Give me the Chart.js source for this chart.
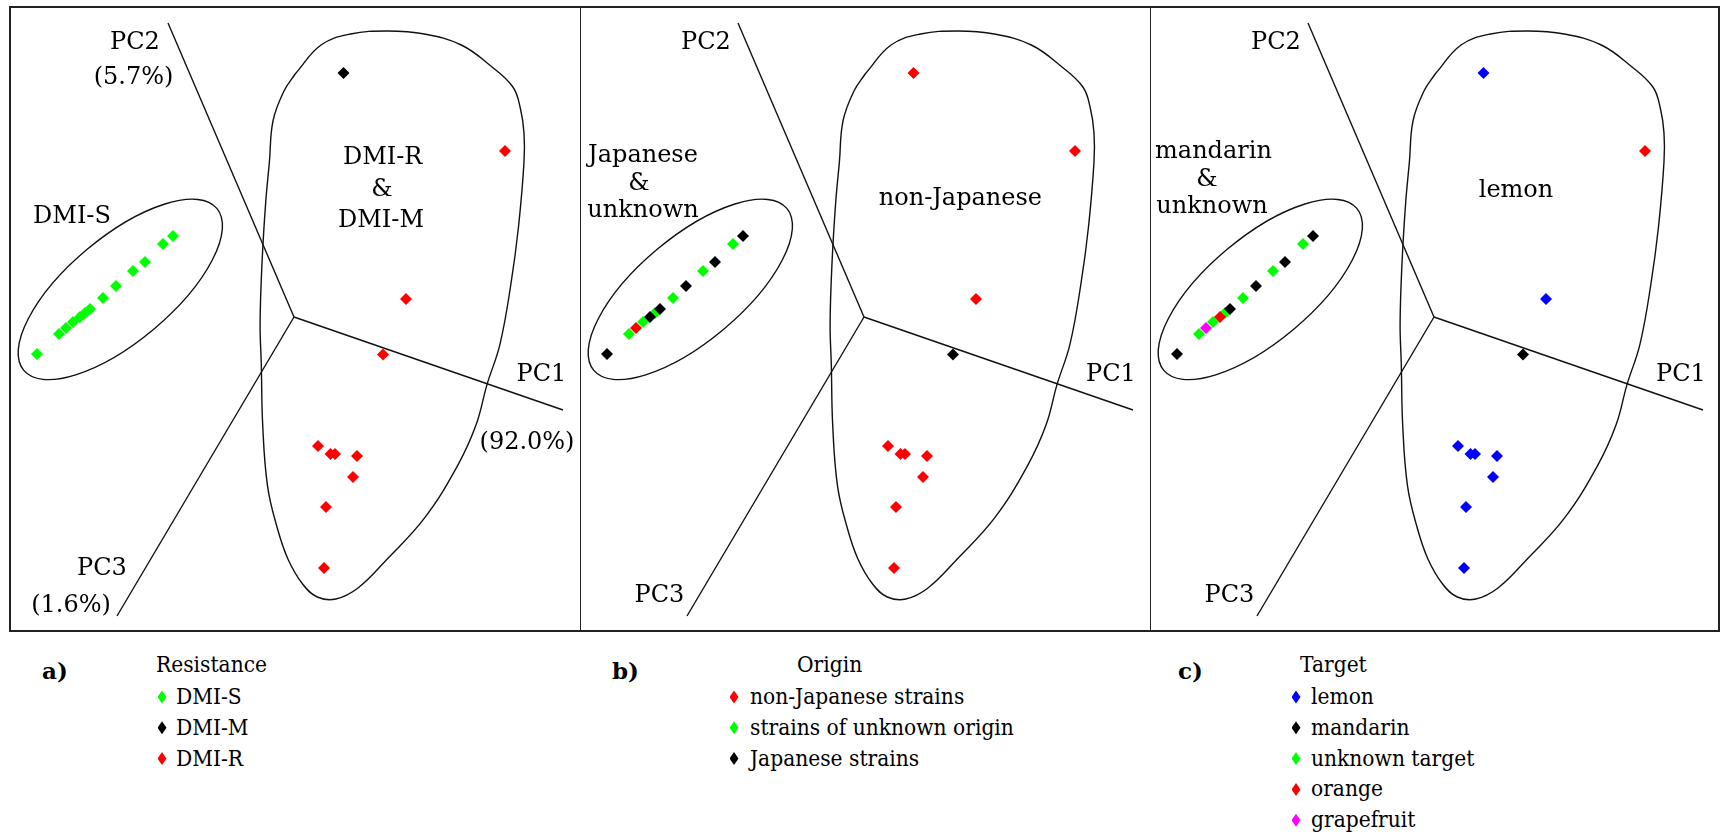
<!DOCTYPE html>
<html>
<head>
<meta charset="utf-8">
<script src="https://cdn.jsdelivr.net/npm/chart.js@4.4.0/dist/chart.umd.min.js"></script>
<style>
body { margin: 0; background: #fff; width: 1726px; height: 839px; position: relative; overflow: hidden;
       font-family: "DejaVu Serif", "Liberation Serif", serif; color: #000; }
.frame { position: absolute; left: 9px; top: 6px; width: 1707px; height: 622px; border: 2px solid #222; }
.divider { position: absolute; top: 6px; width: 1px; height: 626px; background: #222; }
canvas.panel { position: absolute; top: 8px; }
.leg { position: absolute; font-size: 22px; line-height: 28px; white-space: nowrap; transform: scaleX(0.92); transform-origin: left center; }
.tag { position: absolute; font-size: 23px; line-height: 28px; font-weight: bold; }
.mk { position: absolute; width: 9px; height: 13px; clip-path: polygon(50% 0, 100% 50%, 50% 100%, 0 50%); }
</style>
</head>
<body>
<div class="frame"></div>
<div class="divider" style="left:580px"></div>
<div class="divider" style="left:1150px"></div>
<canvas id="panelA" class="panel" width="570" height="624" style="left:10px"></canvas>
<canvas id="panelB" class="panel" width="570" height="624" style="left:580px"></canvas>
<canvas id="panelC" class="panel" width="570" height="624" style="left:1150px"></canvas>
<div id="legends"></div>

<script>
// PCA scores of the strains (PC1 / PC2 plane as drawn)
var strainX = [-25.7, -23.5, -22.8, -22.1, -21.4, -20.9, -20.4, -19.1, -17.8, -16.1, -14.9, -13.1, -12.1,
               4.95, 21.1, 11.2, 8.9, 2.4, 3.65, 4.1, 6.3, 5.9, 3.2, 3.0];
var strainY = [-3.7, -1.7, -1.1, -0.5, 0.0, 0.4, 0.8, 1.9, 3.1, 4.6, 5.5, 7.3, 8.1,
               24.4, 16.6, 1.8, -3.75, -12.9, -13.7, -13.7, -13.9, -16.0, -19.0, -25.1];

// groupings for the three panels
var resistanceCats = ['DMI-S', 'DMI-M', 'DMI-R'];
var resistanceColors = ['#00ff00', '#000000', '#ff0000'];
var resistance = ['DMI-S', 'DMI-S', 'DMI-S', 'DMI-S', 'DMI-S', 'DMI-S', 'DMI-S', 'DMI-S', 'DMI-S', 'DMI-S', 'DMI-S', 'DMI-S', 'DMI-S',
                  'DMI-M', 'DMI-R', 'DMI-R', 'DMI-R', 'DMI-R', 'DMI-R', 'DMI-R', 'DMI-R', 'DMI-R', 'DMI-R', 'DMI-R'];

var originCats = ['non-Japanese strains', 'strains of unknown origin', 'Japanese strains'];
var originColors = ['#ff0000', '#00ff00', '#000000'];
var origin = ['Japanese strains', 'strains of unknown origin', 'non-Japanese strains', 'strains of unknown origin',
              'Japanese strains', 'strains of unknown origin', 'Japanese strains', 'strains of unknown origin',
              'Japanese strains', 'strains of unknown origin', 'Japanese strains', 'strains of unknown origin', 'Japanese strains',
              'non-Japanese strains', 'non-Japanese strains', 'non-Japanese strains', 'Japanese strains',
              'non-Japanese strains', 'non-Japanese strains', 'non-Japanese strains', 'non-Japanese strains',
              'non-Japanese strains', 'non-Japanese strains', 'non-Japanese strains'];

var targetCats = ['lemon', 'mandarin', 'unknown target', 'orange', 'grapefruit'];
var targetColors = ['#0000ff', '#000000', '#00ff00', '#ff0000', '#ff00ff'];
var target = ['mandarin', 'unknown target', 'grapefruit', 'unknown target', 'orange', 'unknown target', 'mandarin',
              'unknown target', 'mandarin', 'unknown target', 'mandarin', 'unknown target', 'mandarin',
              'lemon', 'orange', 'lemon', 'mandarin', 'lemon', 'lemon', 'lemon', 'lemon', 'lemon', 'lemon', 'lemon'];

// loading directions PC1, PC2, PC3
var axisNames = ['PC1', 'PC2', 'PC3'];
var axisVariance = ['(92.0%)', '(5.7%)', '(1.6%)'];
var axisEndX = [26.9, -12.6, -17.7];
var axisEndY = [-9.3, 29.4, -29.9];

// outline round the DMI-R / non-Japanese / lemon group
var hullX = [0.12, 2.7, 5.66, 9.35, 13.04, 16.73, 19.68, 21.89, 22.63, 23.0, 23.0, 22.45, 21.7, 20.6, 19.3, 18.2,
             16.36, 13.04, 9.35, 6.4, 4.18, 2.33, 0.86, -0.62, -1.72, -2.65, -3.13, -3.27, -3.39, -3.2, -2.83, -2.46, -2.1, -1.0];
var hullY = [24.3, 27.2, 28.3, 28.6, 28.3, 27.2, 25.1, 23.0, 20.9, 18.4, 15.51, 9.03, 3.36, -2.71, -6.76, -10.81,
             -14.86, -20.12, -24.17, -27.1, -28.2, -28.0, -26.7, -24.17, -20.93, -16.88, -10.81, -4.74, -0.69, 5.38, 11.46, 15.51, 19.6, 22.6];

// ellipse round the DMI-S group: centre, semi axes, tilt in degrees
var groupEllipse = { x: -17.37, y: 2.76, a: 12.6, b: 5.2, angle: 40 };

var serifFont = '"DejaVu Serif", "Liberation Serif", serif';
var drawOrder = { '#00ff00': 5, '#000000': 4, '#ff0000': 3, '#0000ff': 2, '#ff00ff': 1 };

function pointSets(cats, colors, groups) {
    return cats.map(function (c, i) {
        var pts = [];
        groups.forEach(function (g, k) {
            if (g === c) pts.push({ x: strainX[k], y: strainY[k] });
        });
        return {
            label: c, data: pts, showLine: false,
            pointStyle: 'rectRot', pointRadius: 6, pointHoverRadius: 6,
            backgroundColor: colors[i], borderColor: colors[i], borderWidth: 0,
            order: drawOrder[colors[i]]
        };
    });
}

function shapeSets() {
    var sets = [];
    for (var i = 0; i < axisEndX.length; i++) {
        sets.push({
            label: axisNames[i], data: [{ x: 0, y: 0 }, { x: axisEndX[i], y: axisEndY[i] }],
            showLine: true, pointRadius: 0, borderColor: '#111', borderWidth: 1.4, order: 10
        });
    }
    var hull = hullX.map(function (x, i) { return { x: x, y: hullY[i] }; });
    hull.push(hull[0]);
    sets.push({
        label: 'group', data: hull, showLine: true, tension: 0.4, pointRadius: 0,
        borderColor: '#111', borderWidth: 1.4, fill: false, order: 10
    });
    return sets;
}

var panelText = {
    id: 'panelText',
    beforeDatasetsDraw: function (chart, args, opts) {
        var ctx = chart.ctx, xs = chart.scales.x, ys = chart.scales.y;
        var e = groupEllipse;
        var cx = xs.getPixelForValue(e.x), cy = ys.getPixelForValue(e.y);
        ctx.save();
        ctx.beginPath();
        ctx.ellipse(cx, cy, xs.getPixelForValue(e.x + e.a) - cx, cy - ys.getPixelForValue(e.y + e.b),
                    -e.angle * Math.PI / 180, 0, 2 * Math.PI);
        ctx.strokeStyle = '#111';
        ctx.lineWidth = 1.4;
        ctx.stroke();
        ctx.restore();
    },
    afterDatasetsDraw: function (chart, args, opts) {
        var ctx = chart.ctx, xs = chart.scales.x, ys = chart.scales.y;
        ctx.save();
        ctx.font = '24px ' + serifFont;
        ctx.fillStyle = '#000';
        ctx.textAlign = 'center';
        ctx.textBaseline = 'middle';
        opts.labels.forEach(function (l) {
            ctx.fillText(l[0], xs.getPixelForValue(l[1]), ys.getPixelForValue(l[2]));
        });
        ctx.restore();
    }
};

function makePanel(id, cats, colors, groups, labels) {
    new Chart(document.getElementById(id), {
        type: 'scatter',
        data: { datasets: shapeSets().concat(pointSets(cats, colors, groups)) },
        options: {
            responsive: false,
            animation: false,
            events: [],
            layout: { padding: 0, autoPadding: false },
            scales: {
                x: { type: 'linear', display: false, min: -28.4, max: 28.6 },
                y: { type: 'linear', display: false, min: -31.5, max: 30.9 }
            },
            plugins: {
                legend: { display: false },
                tooltip: { enabled: false },
                panelText: { labels: labels }
            }
        },
        plugins: [panelText]
    });
}

makePanel('panelA', resistanceCats, resistanceColors, resistance, [
    [axisNames[1], -15.9, 27.45], [axisVariance[1], -16.05, 23.9],
    [axisNames[0], 24.75, -5.8], [axisVariance[0], 23.3, -12.6],
    [axisNames[2], -19.2, -25.2], [axisVariance[2], -22.3, -28.9],
    ['DMI-S', -22.2, 10.05],
    ['DMI-R', 8.87, 15.9], ['&', 8.8, 12.7], ['DMI-M', 8.7, 9.64]
]);
makePanel('panelB', originCats, originColors, origin, [
    [axisNames[1], -15.8, 27.45], [axisNames[0], 24.7, -5.8], [axisNames[2], -20.45, -27.85],
    ['Japanese', -22.1, 16.1], ['&', -22.5, 13.3], ['unknown', -22.1, 10.65],
    ['non-Japanese', 9.64, 11.86]
]);
makePanel('panelC', targetCats, targetColors, target, [
    [axisNames[1], -15.8, 27.45], [axisNames[0], 24.7, -5.8], [axisNames[2], -20.45, -27.85],
    ['mandarin', -22.05, 16.5], ['&', -22.7, 13.7], ['unknown', -22.2, 11.05],
    ['lemon', 8.2, 12.6]
]);

// legends under the panels
function addLegend(tag, tagLeft, title, titleLeft, cats, colors, markLeft, textLeft) {
    var box = document.getElementById('legends');
    var html = '<div class="tag" style="left:' + tagLeft + 'px;top:657px">' + tag + '</div>' +
               '<div class="leg" style="left:' + titleLeft + 'px;top:651px">' + title + '</div>';
    cats.forEach(function (c, i) {
        var yc = 697 + 30.8 * i;
        html += '<div class="mk" style="left:' + (markLeft - 4.5) + 'px;top:' + (yc - 6.5) + 'px;background:' + colors[i] + '"></div>' +
                '<div class="leg" style="left:' + textLeft + 'px;top:' + (yc - 14) + 'px">' + c + '</div>';
    });
    box.insertAdjacentHTML('beforeend', html);
}
addLegend('a)', 42, 'Resistance', 156, resistanceCats, resistanceColors, 162, 176);
addLegend('b)', 612, 'Origin', 797, originCats, originColors, 734, 750);
addLegend('c)', 1178, 'Target', 1300, targetCats, targetColors, 1296, 1311);
</script>
</body>
</html>
